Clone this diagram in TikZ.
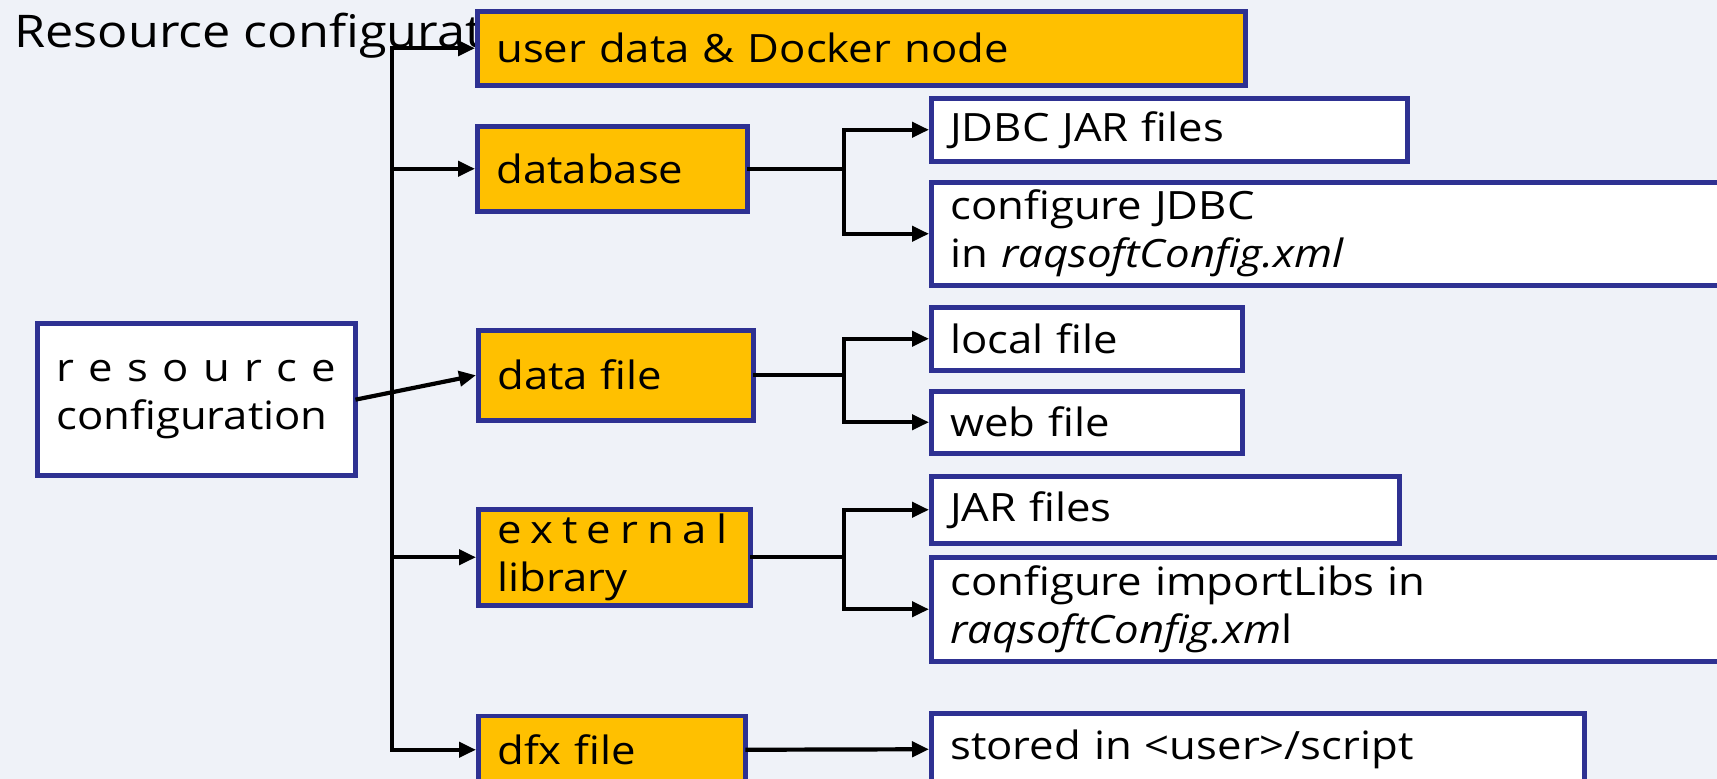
\documentclass[tikz,border=0pt]{standalone}
\usepackage{fontspec}
\setmainfont{Open Sans}[FakeStretch=1.12]
\usetikzlibrary{arrows.meta}
\definecolor{panelbg}{RGB}{239,242,248}
\definecolor{navyedge}{RGB}{46,49,146}
\definecolor{ambercell}{RGB}{255,192,0}
\newcommand{\boxfont}{\fontsize{39}{48}\selectfont}
\newcommand{\headfont}{\fontsize{45}{52}\selectfont}

\begin{document}
\begin{tikzpicture}[x=1pt, y=-1pt,
        cell/.style={draw=navyedge, line width=4.5pt, fill=white, rectangle,
            anchor=north west, inner xsep=19pt, inner ysep=0pt, align=left, font=\boxfont},
        topic/.style={cell, fill=ambercell},
        wire/.style={line width=4.2pt, line cap=rect},
        feed/.style={wire, -{Triangle[length=17pt, width=15pt]}}]

        \useasboundingbox (0,0) rectangle (1717,779);
        \clip (0,0) rectangle (1717,779);
        \fill[panelbg] (0,0) rectangle (1717,779);

        \node[anchor=base west, inner sep=0pt, font=\headfont] (heading) at (14,47) {Resource configurat};

        \node[cell, text width=280pt, minimum height=152pt] (resconf) at (35,321)
            {\makebox[280pt][s]{r\hfill e\hfill s\hfill o\hfill u\hfill r\hfill c\hfill e}\\configuration};

        \node[topic, text width=730pt, minimum height=74pt] (userdata) at (475,9) {user data \& Docker node};
        \node[topic, text width=232pt, minimum height=85pt] (database) at (475,124) {database};
        \node[topic, text width=237pt, minimum height=90pt] (datafile) at (476,328) {data file};
        \node[topic, text width=234pt, minimum height=96pt] (extlib) at (476,507)
            {\makebox[230pt][s]{e\hfill x\hfill t\hfill e\hfill r\hfill n\hfill a\hfill l}\\library};
        \node[topic, text width=229pt, minimum height=68pt] (dfxfile) at (476,713.5) {dfx file};

        \node[cell, text width=438pt, minimum height=63pt] (jdbcjar) at (929,96) {JDBC JAR files};
        \node[cell, text width=800pt, minimum height=103pt] (jdbcconf) at (929,180)
            {configure JDBC\\in \textit{raqsoftConfig.xml}};
        \node[cell, text width=273pt, minimum height=63pt] (localfile) at (929,305) {local file};
        \node[cell, text width=273pt, minimum height=62pt] (webfile) at (929,389) {web file};
        \node[cell, text width=430pt, minimum height=67pt] (jarfiles) at (929,474) {JAR files};
        \node[cell, text width=800pt, minimum height=104pt] (libsconf) at (929,555)
            {configure importLibs in\\\textit{raqsoftConfig.xm}l};
        \node[cell, text width=615pt, minimum height=72pt] (stored) at (929,711) {stored in <user>/script};

        \coordinate (trunk) at (392,0);
        \coordinate (fork) at (844,0);

        \draw[wire] (trunk |- userdata.west) -- (trunk |- dfxfile.west);
        \draw[feed] (trunk |- userdata.west) -- (userdata.west);
        \draw[feed] (trunk |- database.west) -- (database.west);
        \draw[feed] (trunk |- extlib.west) -- (extlib.west);
        \draw[feed] (trunk |- dfxfile.west) -- (dfxfile.west);
        \draw[feed] (resconf.east) -- (datafile.west);

        \draw[wire] (database.east) -- (fork |- database.east);
        \draw[feed] (fork |- database.east) |- (jdbcjar.west);
        \draw[feed] (fork |- database.east) |- (jdbcconf.west);

        \draw[wire] (datafile.east) -- (fork |- datafile.east);
        \draw[feed] (fork |- datafile.east) |- (localfile.west);
        \draw[feed] (fork |- datafile.east) |- (webfile.west);

        \draw[wire] (extlib.east) -- (fork |- extlib.east);
        \draw[feed] (fork |- extlib.east) |- (jarfiles.west);
        \draw[feed] (fork |- extlib.east) |- (libsconf.west);

        \draw[feed] (dfxfile.east) -- (stored.west);

\end{tikzpicture}
\end{document}
